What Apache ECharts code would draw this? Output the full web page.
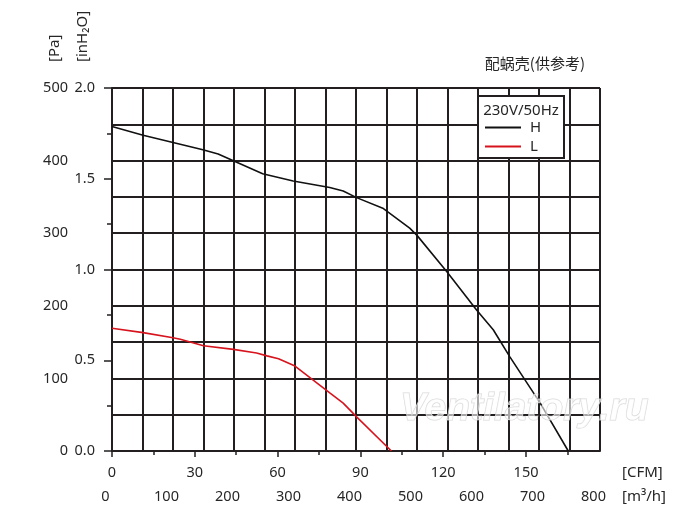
<!DOCTYPE html>
<html>
<head>
<meta charset="utf-8">
<script src="https://cdn.jsdelivr.net/npm/echarts@6/dist/echarts.min.js"></script>
<style>
  html, body { margin: 0; padding: 0; background: #fff; }
  #chart { width: 700px; height: 523px; }
</style>
</head>
<body>
<div id="chart"></div>
<script>
// airflow in m3/h, pressure in Pa
const flowH = [0, 51, 100, 149, 174, 198, 247, 297, 357, 379, 401, 445, 488, 500, 549, 598, 625, 652, 702, 748];
const presH = [447, 435, 425, 415, 409, 400, 382, 372, 363, 358, 349, 334, 307, 297, 247, 194, 167, 130, 66, 0];
const flowL = [0, 51, 100, 112, 150, 199, 237, 254, 273, 300, 357, 379, 401, 458];
const presL = [169, 163, 156, 154, 145, 140, 135, 131, 127, 117, 80, 66, 47, 0];

const cfmTicks = [0, 30, 60, 90, 120, 150];
const seriesNames = ['H', 'L'];
const legendTitle = '230V/50Hz';
const chartTitle = '配蜗壳(供参考)';

const ink = '#231f20';
const txt = '#262626';
const font = 'Noto Sans';

function pairs(xs, ys) {
  return xs.map((x, i) => [x, ys[i]]);
}

const chart = echarts.init(document.getElementById('chart'));

let option = {
  backgroundColor: '#fff',
  animation: false,
  grid: { left: 112, right: 100, top: 88, bottom: 72 },
  textStyle: { fontFamily: font },
  legend: {
    data: seriesNames,
    orient: 'vertical',
    left: 485,
    top: 120,
    padding: 0,
    itemGap: 4,
    itemWidth: 36,
    itemHeight: 2,
    icon: 'rect',
    selectedMode: false,
    textStyle: { fontFamily: font, fontSize: 15, color: txt, lineHeight: 14, padding: [0, 0, 0, 4] }
  },
  xAxis: [
    {
      // m3/h, carries the grid
      type: 'value',
      min: 0,
      max: 800,
      interval: 100,
      position: 'bottom',
      axisLine: { show: false },
      axisTick: { show: false },
      axisLabel: { margin: 38, fontSize: 14.5, color: txt, padding: [0, 13, 0, 0] },
      splitLine: { show: true, lineStyle: { color: ink, width: 2 } },
      minorTick: { show: false, splitNumber: 2 },
      minorSplitLine: { show: true, lineStyle: { color: ink, width: 2 } }
    },
    {
      // CFM
      type: 'value',
      min: 0,
      max: 176.8,
      interval: 30,
      position: 'bottom',
      axisLine: { show: true, onZero: false, lineStyle: { color: ink, width: 2 } },
      axisTick: { show: true, length: 6, customValues: cfmTicks, lineStyle: { color: ink, width: 1.5 } },
      minorTick: { show: true, splitNumber: 2, length: 4, lineStyle: { color: ink, width: 1.5 } },
      axisLabel: { margin: 14, fontSize: 14.5, color: txt, customValues: cfmTicks },
      splitLine: { show: false }
    }
  ],
  yAxis: [
    {
      // Pa, carries the grid
      type: 'value',
      min: 0,
      max: 500,
      interval: 100,
      position: 'left',
      axisLine: { show: false },
      axisTick: { show: false },
      axisLabel: { margin: 44, fontSize: 14.5, color: txt, padding: [2, 0, 0, 0] },
      splitLine: { show: true, lineStyle: { color: ink, width: 2 } },
      minorTick: { show: false, splitNumber: 2 },
      minorSplitLine: { show: true, lineStyle: { color: ink, width: 2 } }
    },
    {
      // inH2O
      type: 'value',
      min: 0,
      max: 2,
      interval: 0.5,
      position: 'left',
      axisLine: { show: true, onZero: false, lineStyle: { color: ink, width: 2 } },
      axisTick: { show: true, length: 8, lineStyle: { color: ink, width: 1.5 } },
      minorTick: { show: true, splitNumber: 2, length: 5, lineStyle: { color: ink, width: 1.5 } },
      axisLabel: { margin: 17, fontSize: 14.5, color: txt, formatter: v => v.toFixed(1) },
      splitLine: { show: false }
    }
  ],
  series: [
    {
      name: 'H',
      type: 'line',
      xAxisIndex: 0,
      yAxisIndex: 0,
      data: pairs(flowH, presH),
      showSymbol: false,
      color: '#111',
      lineStyle: { color: '#111', width: 1.6 },
      z: 5
    },
    {
      name: 'L',
      type: 'line',
      xAxisIndex: 0,
      yAxisIndex: 0,
      data: pairs(flowL, presL),
      showSymbol: false,
      color: '#d7141d',
      lineStyle: { color: '#d7141d', width: 1.6 },
      z: 5
    }
  ],
  graphic: [
    {
      type: 'rect',
      shape: { x: 478, y: 96, width: 86, height: 62 },
      style: { fill: '#fff', stroke: ink, lineWidth: 2 },
      z: 3
    },
    {
      type: 'text',
      x: 521, y: 111,
      style: { text: legendTitle, font: '15px "Noto Sans"', fill: txt, align: 'center', verticalAlign: 'middle' },
      z: 4
    },
    {
      type: 'text',
      x: 585, y: 63,
      style: { text: chartTitle, font: '15px "Noto Sans CJK SC"', fill: txt, align: 'right', verticalAlign: 'middle' }
    },
    {
      type: 'text',
      x: 55, y: 62, rotation: Math.PI / 2,
      style: { text: '[Pa]', font: '15px "Noto Sans"', fill: txt, align: 'left', verticalAlign: 'middle' }
    },
    {
      type: 'text',
      x: 83, y: 62, rotation: Math.PI / 2,
      style: { text: '[inH₂O]', font: '15px "Noto Sans"', fill: txt, align: 'left', verticalAlign: 'middle' }
    },
    {
      type: 'text',
      x: 622, y: 473,
      style: { text: '[CFM]', font: '15px "Noto Sans"', fill: txt, align: 'left', verticalAlign: 'middle' }
    },
    {
      type: 'text',
      x: 622, y: 497,
      style: { text: '[m³/h]', font: '15px "Noto Sans"', fill: txt, align: 'left', verticalAlign: 'middle' }
    },
    {
      type: 'text',
      x: 400, y: 409,
      style: {
        text: 'Ventilatory.ru',
        font: 'italic bold 39px "Liberation Sans"',
        fill: 'rgba(255,255,255,0.6)',
        stroke: 'rgba(205,205,205,0.8)',
        lineWidth: 1,
        align: 'left',
        verticalAlign: 'middle'
      },
      z: 100
    }
  ]
};

chart.setOption(option);
</script>
</body>
</html>
